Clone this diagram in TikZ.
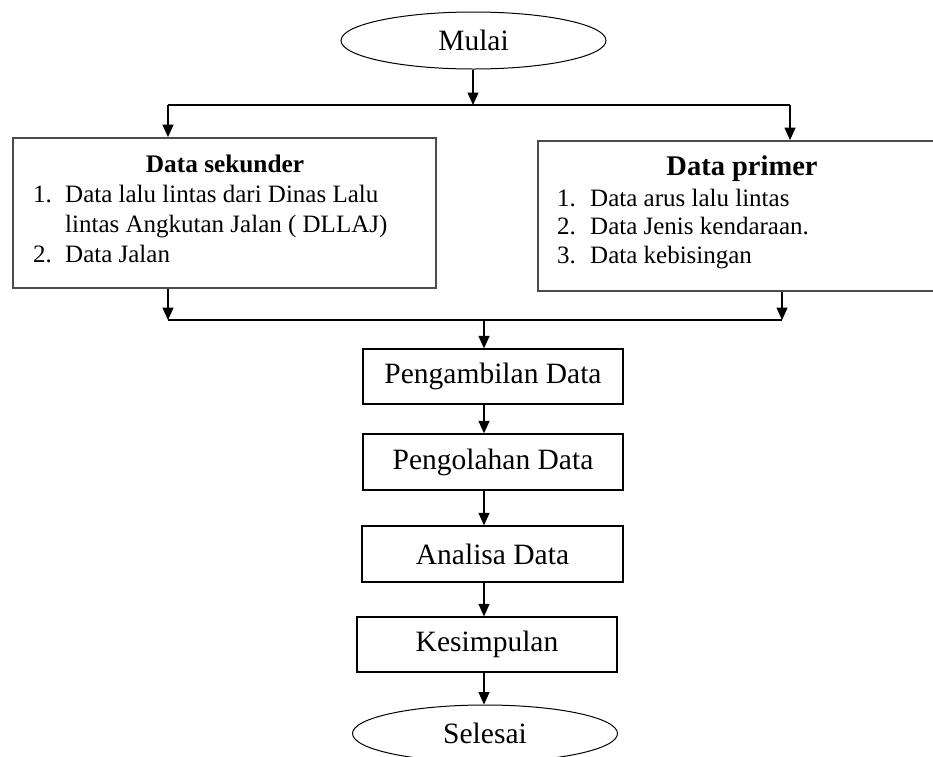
\documentclass[tikz,border=0pt]{standalone}
\usepackage{fontspec}
\setmainfont{Liberation Serif}
\usetikzlibrary{arrows.meta,shapes.geometric}
\begin{document}
\begin{tikzpicture}[x=1pt,y=-1pt,
  arr/.style={line width=1.3pt,-{Triangle[length=12.5pt,width=11pt]}},
  ln/.style={line width=1.3pt},
  term/.style={ellipse,draw,line width=1pt,minimum width=265pt,minimum height=57pt,inner sep=0pt,font=\fontsize{29.5}{34}\selectfont},
  proc/.style={rectangle,draw,line width=1.3pt,inner sep=0pt,font=\fontsize{29.5}{34}\selectfont},
  bigbox/.style={rectangle,draw=black!70,line width=1.8pt,inner sep=0pt},
  lst/.style={anchor=base west,inner sep=0pt,font=\fontsize{25}{29}\selectfont}]
\useasboundingbox (0,0) rectangle (933,756);
\clip (0,0) rectangle (933,756);
% terminals
\node[term] (mulai) at (473.5,40.5) {Mulai};
\node[term] (selesai) at (485,733.5) {Selesai};
% big boxes
\node[bigbox,minimum width=423pt,minimum height=150pt] (sek) at (224.5,213) {};
\node[bigbox,minimum width=407pt,minimum height=150pt] (pri) at (741.5,216) {};
% texts in left box
\node[anchor=base,inner sep=0pt,font=\fontsize{25.3}{29}\selectfont\bfseries] (sekh) at (225,172) {Data sekunder};
\node[lst] (s1n) at (33,202) {1.};
\node[lst] (s1a) at (65,202) {Data lalu lintas dari Dinas Lalu};
\node[lst] (s1b) at (65,232) {lintas Angkutan Jalan ( DLLAJ)};
\node[lst] (s2n) at (33,262) {2.};
\node[lst] (s2a) at (65,262) {Data Jalan};
% texts in right box
\node[anchor=base,inner sep=0pt,font=\fontsize{28.5}{32}\selectfont\bfseries] (prih) at (742,175) {Data primer};
\node[lst] (p1n) at (557,206) {1.};
\node[lst] (p1a) at (590,206) {Data arus lalu lintas};
\node[lst] (p2n) at (557,234) {2.};
\node[lst] (p2a) at (590,234) {Data Jenis kendaraan.};
\node[lst] (p3n) at (557,263) {3.};
\node[lst] (p3a) at (590,263) {Data kebisingan};
% process boxes
\node[proc,minimum width=260pt,minimum height=55pt] (ambil) at (493,376.5) {Pengambilan Data};
\node[proc,minimum width=260pt,minimum height=56pt] (olah) at (493,462) {Pengolahan Data};
\node[proc,minimum width=261pt,minimum height=56pt] (analisa) at (492.5,554) {Analisa Data};
\node[proc,minimum width=260pt,minimum height=55pt] (kesim) at (487,644.5) {Kesimpulan};
% helper coordinates
\coordinate (split) at (473,105);
\coordinate (sl) at (168,105);
\coordinate (sr) at (790,105);
\coordinate (jl) at (168,320);
\coordinate (jr) at (782,320);
\coordinate (jm) at (484,320);
\coordinate (ax) at (484,0);
% connectors
\draw[arr] (mulai.south -| split) -- (split);
\draw[ln] (sl) -- (sr);
\draw[arr] (sl) -- (sek.north -| sl);
\draw[arr] (sr) -- (pri.north -| sr);
\draw[arr] (sek.south -| jl) -- (jl);
\draw[arr] (pri.south -| jr) -- (jr);
\draw[ln] (jl) -- (jr);
\draw[arr] (jm) -- (ambil.north -| jm);
\draw[arr] (ambil.south -| ax) -- (olah.north -| ax);
\draw[arr] (olah.south -| ax) -- (analisa.north -| ax);
\draw[arr] (analisa.south -| ax) -- (kesim.north -| ax);
\draw[arr] (kesim.south -| ax) -- (selesai.north -| ax);
\end{tikzpicture}
\end{document}
